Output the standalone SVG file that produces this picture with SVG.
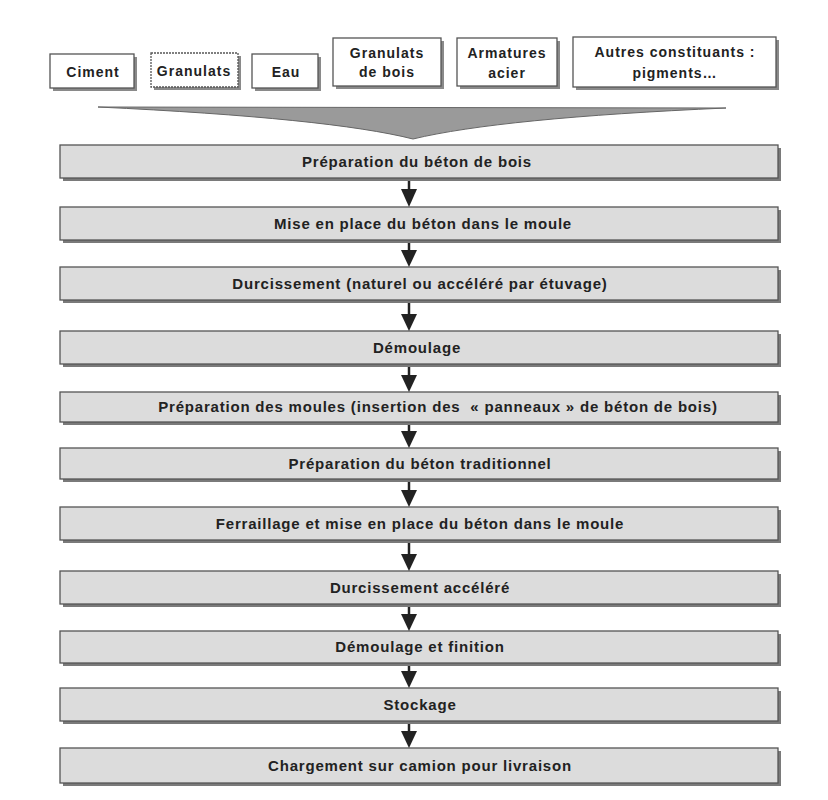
<svg xmlns="http://www.w3.org/2000/svg" width="828" height="800" viewBox="0 0 828 800">
<defs>
<style>
.bg{fill:#ffffff}
.in rect.b{fill:#ffffff;stroke:#555;stroke-width:1.3}
.in rect.s{fill:#8a8a8a}
.st rect.b{fill:#dcdcdc;stroke:#555;stroke-width:1.3}
.st rect.s{fill:#7a7a7a}
.t{font-family:"Liberation Sans",Arial,sans-serif;font-weight:bold;fill:#222;text-anchor:middle}
.ti{font-size:14px;letter-spacing:1px}
.tp{font-size:15px;letter-spacing:0.8px}
.ar line{stroke:#222;stroke-width:2.5}
.ar polygon{fill:#222}
</style>
</defs>
<rect class="bg" x="0" y="0" width="828" height="800"/>

<!-- input nodes -->
<g id="ciment" class="in">
<rect class="s" x="53" y="57" width="84" height="34"/>
<rect class="b" x="50" y="54" width="84" height="34"/>
<text class="t ti" x="93" y="77">Ciment</text>
</g>
<g id="granulats" class="in">
<rect class="s" x="154" y="56" width="87" height="34"/>
<rect class="b" x="151" y="53" width="87" height="34" style="stroke-dasharray:2 1"/>
<text class="t ti" x="194" y="76">Granulats</text>
</g>
<g id="eau" class="in">
<rect class="s" x="255" y="57" width="66" height="34"/>
<rect class="b" x="252" y="54" width="66" height="34"/>
<text class="t ti" x="286" y="77">Eau</text>
</g>
<g id="granulats-bois" class="in">
<rect class="s" x="336" y="41" width="108" height="48"/>
<rect class="b" x="333" y="38" width="108" height="48"/>
<text class="t ti" x="387" y="58">Granulats</text>
<text class="t ti" x="387" y="77">de bois</text>
</g>
<g id="armatures" class="in">
<rect class="s" x="460" y="41" width="100" height="48"/>
<rect class="b" x="457" y="38" width="100" height="48"/>
<text class="t ti" x="507" y="58">Armatures</text>
<text class="t ti" x="507" y="78">acier</text>
</g>
<g id="autres" class="in">
<rect class="s" x="576" y="40" width="203" height="50"/>
<rect class="b" x="573" y="37" width="203" height="50"/>
<text class="t ti" x="675" y="57">Autres constituants :</text>
<text class="t ti" x="675" y="78">pigments…</text>
</g>

<!-- funnel -->
<g id="funnel">
<path d="M98,107 L726,108 Q500,118 413,139 Q330,118 98,107 Z" fill="#9a9a9a" stroke="#666" stroke-width="1"/>
</g>

<!-- process steps -->
<g id="s1" class="st">
<rect class="s" x="63" y="148" width="718" height="33"/>
<rect class="b" x="60" y="145" width="718" height="33"/>
<text class="t tp" x="417" y="167">Préparation du béton de bois</text>
</g>
<g id="s2" class="st">
<rect class="s" x="63" y="210" width="718" height="33"/>
<rect class="b" x="60" y="207" width="718" height="33"/>
<text class="t tp" x="423" y="229">Mise en place du béton dans le moule</text>
</g>
<g id="s3" class="st">
<rect class="s" x="63" y="270" width="718" height="33"/>
<rect class="b" x="60" y="267" width="718" height="33"/>
<text class="t tp" x="420" y="289">Durcissement (naturel ou accéléré par étuvage)</text>
</g>
<g id="s4" class="st">
<rect class="s" x="63" y="334" width="718" height="33"/>
<rect class="b" x="60" y="331" width="718" height="33"/>
<text class="t tp" x="417" y="353">Démoulage</text>
</g>
<g id="s5" class="st">
<rect class="s" x="63" y="395" width="718" height="30"/>
<rect class="b" x="60" y="392" width="718" height="30"/>
<text class="t tp" x="438" y="412" xml:space="preserve">Préparation des moules (insertion des  « panneaux » de béton de bois)</text>
</g>
<g id="s6" class="st">
<rect class="s" x="63" y="451" width="718" height="31"/>
<rect class="b" x="60" y="448" width="718" height="31"/>
<text class="t tp" x="420" y="469">Préparation du béton traditionnel</text>
</g>
<g id="s7" class="st">
<rect class="s" x="63" y="510" width="718" height="33"/>
<rect class="b" x="60" y="507" width="718" height="33"/>
<text class="t tp" x="420" y="529">Ferraillage et mise en place du béton dans le moule</text>
</g>
<g id="s8" class="st">
<rect class="s" x="63" y="574" width="718" height="33"/>
<rect class="b" x="60" y="571" width="718" height="33"/>
<text class="t tp" x="420" y="593">Durcissement accéléré</text>
</g>
<g id="s9" class="st">
<rect class="s" x="63" y="634" width="718" height="32"/>
<rect class="b" x="60" y="631" width="718" height="32"/>
<text class="t tp" x="420" y="652">Démoulage et finition</text>
</g>
<g id="s10" class="st">
<rect class="s" x="63" y="691" width="718" height="33"/>
<rect class="b" x="60" y="688" width="718" height="33"/>
<text class="t tp" x="420" y="710">Stockage</text>
</g>
<g id="s11" class="st">
<rect class="s" x="63" y="751" width="718" height="35"/>
<rect class="b" x="60" y="748" width="718" height="35"/>
<text class="t tp" x="420" y="771">Chargement sur camion pour livraison</text>
</g>

<!-- connectors -->
<g id="connectors" class="ar">
<line x1="409" y1="181" x2="409" y2="190"/><polygon points="401,189 417,189 409,207"/>
<line x1="409" y1="243" x2="409" y2="251"/><polygon points="401,250 417,250 409,267"/>
<line x1="409" y1="303" x2="409" y2="315"/><polygon points="401,314 417,314 409,331"/>
<line x1="409" y1="367" x2="409" y2="376"/><polygon points="401,375 417,375 409,392"/>
<line x1="409" y1="425" x2="409" y2="432"/><polygon points="401,431 417,431 409,448"/>
<line x1="409" y1="482" x2="409" y2="491"/><polygon points="401,490 417,490 409,507"/>
<line x1="409" y1="543" x2="409" y2="555"/><polygon points="401,554 417,554 409,571"/>
<line x1="409" y1="607" x2="409" y2="615"/><polygon points="401,614 417,614 409,631"/>
<line x1="409" y1="666" x2="409" y2="672"/><polygon points="401,671 417,671 409,688"/>
<line x1="409" y1="724" x2="409" y2="732"/><polygon points="401,731 417,731 409,748"/>
</g>
</svg>
